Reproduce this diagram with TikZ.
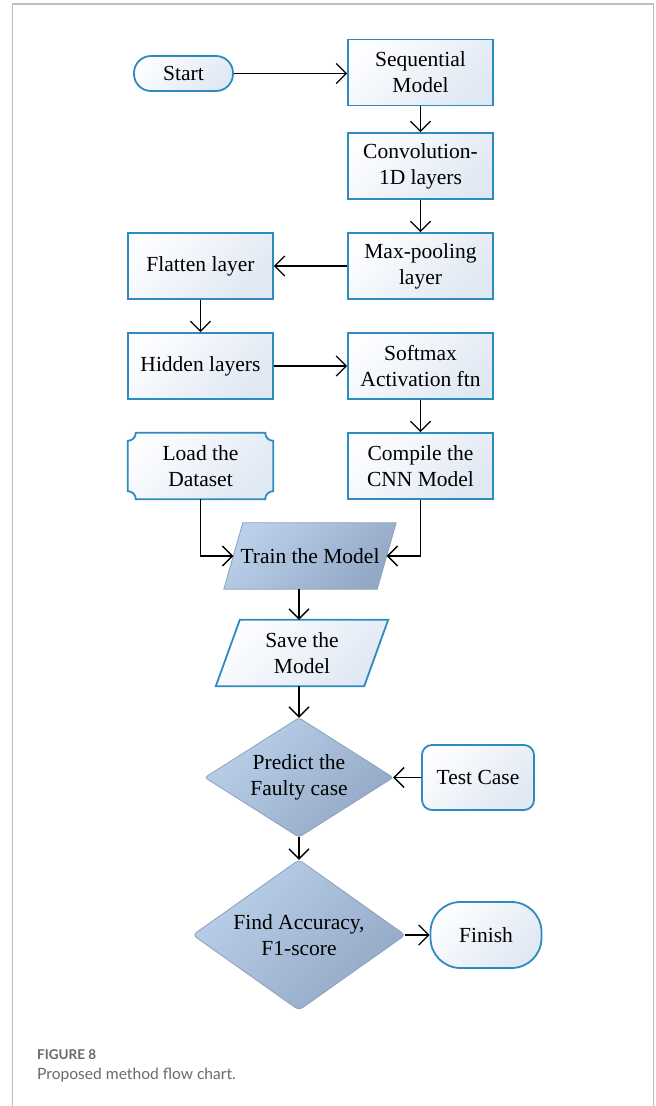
\documentclass[tikz,border=0pt]{standalone}
\usepackage{fontspec}
\setmainfont{Liberation Serif}
\newfontfamily\capfont{Lato}
\usetikzlibrary{arrows.meta,calc,backgrounds}
\definecolor{bblue}{RGB}{46,139,192}
\definecolor{boxL}{RGB}{252,253,255}
\definecolor{boxR}{RGB}{224,232,243}
\definecolor{darkL}{RGB}{186,208,234}
\definecolor{darkR}{RGB}{146,168,197}
\definecolor{darkD}{RGB}{138,161,189}
\definecolor{frameC}{RGB}{190,190,190}
\definecolor{capC}{RGB}{105,105,105}
\tikzset{
  txt/.style={align=center, font=\fontsize{21.5}{26}\selectfont, inner sep=0pt},
  box/.style={txt, draw=bblue, line width=1.8pt, top color=boxL, bottom color=boxR, shading angle=45,
              minimum width=145pt, minimum height=66pt},
  term/.style={box, rounded corners=#1},
  holder/.style={txt, minimum width=#1},
  lightfill/.style={draw=bblue, line width=1.8pt, top color=boxL, bottom color=boxR, shading angle=45},
  darkfill/.style={draw=darkD, line width=0.8pt, top color=darkL, bottom color=darkR, shading angle=45},
  conn/.style={line width=1.3pt, -{Straight Barb[length=10pt,width=20pt,line width=1.3pt]}}
}
\begin{document}
\begin{tikzpicture}[x=1pt,y=-1pt]
\useasboundingbox (0,0) rectangle (656,1106);
% frame
\draw[frameC, line width=1.2pt] (12.5,1106) -- (12.5,4) -- (653.5,4) -- (653.5,1106);

% nodes
\node[term=17pt, minimum width=99pt, minimum height=35pt] (start) at (183.5,73.5) {Start};
\node[box] (seq) at (420.5,72.5) {Sequential\\Model};
\node[box] (conv) at (420.5,166) {Convolution-\\1D layers};
\node[box] (maxp) at (420.5,266) {Max-pooling\\layer};
\node[box] (flat) at (200.5,266) {Flatten layer};
\node[box] (hid) at (200.5,366) {Hidden layers};
\node[box] (soft) at (420.5,366) {Softmax\\Activation ftn};
\node[holder=145pt, minimum height=66pt] (load) at (200.5,466) {Load the\\Dataset};
\node[box] (comp) at (420.5,466) {Compile the\\CNN Model};
\node[holder=153pt, minimum height=66pt] (train) at (310,556) {Train the Model};
\node[holder=148pt, minimum height=66pt] (save) at (302,653) {Save the\\Model};
\node[holder=188pt, minimum height=119pt] (pred) at (299,777.5) {Predict the\\Faulty case};
\node[term=10pt, minimum width=112pt, minimum height=65pt] (test) at (478,777.5) {Test Case};
\node[holder=212pt, minimum height=150pt] (acc) at (299,935) {Find Accuracy,\\F1-score};
\node[term=30pt, minimum width=111pt, minimum height=66pt] (fin) at (486,935) {Finish};

% shapes behind text
\begin{pgfonlayer}{background}
  \def\r{8}
  \draw[lightfill] ($(load.north west)+(\r,0)$) -- ($(load.north east)+(-\r,0)$)
     arc[start angle=180,end angle=90,radius=\r] -- ($(load.south east)+(0,-\r)$)
     arc[start angle=270,end angle=180,radius=\r] -- ($(load.south west)+(\r,0)$)
     arc[start angle=0,end angle=-90,radius=\r] -- ($(load.north west)+(0,\r)$)
     arc[start angle=90,end angle=0,radius=\r] -- cycle;
  \draw[darkfill] ($(train.north west)+(9.5,0)$) -- ($(train.north east)+(9.5,0)$)
     -- ($(train.south east)+(-9.5,0)$) -- ($(train.south west)+(-9.5,0)$) -- cycle;
  \draw[lightfill] ($(save.north west)+(12,0)$) -- ($(save.north east)+(12,0)$)
     -- ($(save.south east)+(-12,0)$) -- ($(save.south west)+(-12,0)$) -- cycle;
  \draw[darkfill, rounded corners=3pt] (pred.north) -- (pred.east) -- (pred.south) -- (pred.west) -- cycle;
  \draw[darkfill, rounded corners=4pt] (acc.north) -- (acc.east) -- (acc.south) -- (acc.west) -- cycle;
\end{pgfonlayer}

% connectors
\draw[conn] (start) -- (seq.west |- start);
\draw[conn] (seq) -- (conv);
\draw[conn] (conv) -- (maxp);
\draw[conn] (maxp) -- (flat);
\draw[conn] (flat) -- (hid);
\draw[conn] (hid) -- (soft);
\draw[conn] (soft) -- (comp);
\draw[conn] (load.south) |- (train.west);
\draw[conn] (comp.south) |- (train.east);
\draw[conn] (train.south -| pred.north) -- (save.north -| pred.north);
\draw[conn] (save.south -| pred.north) -- (pred.north);
\draw[conn] (test) -- (pred.east);
\draw[conn] (pred.south) -- (acc.north);
\draw[conn] (acc.east) -- (fin);

% caption
\node[anchor=base west, inner sep=0pt, text=capC, font=\capfont\bfseries\fontsize{13.5}{16}\selectfont] (cap1) at (37,1059) {FIGURE 8};
\node[anchor=base west, inner sep=0pt, text=capC, font=\capfont\fontsize{15.6}{19}\selectfont] (cap2) at (37,1079) {Proposed method flow chart.};
\end{tikzpicture}
\end{document}
